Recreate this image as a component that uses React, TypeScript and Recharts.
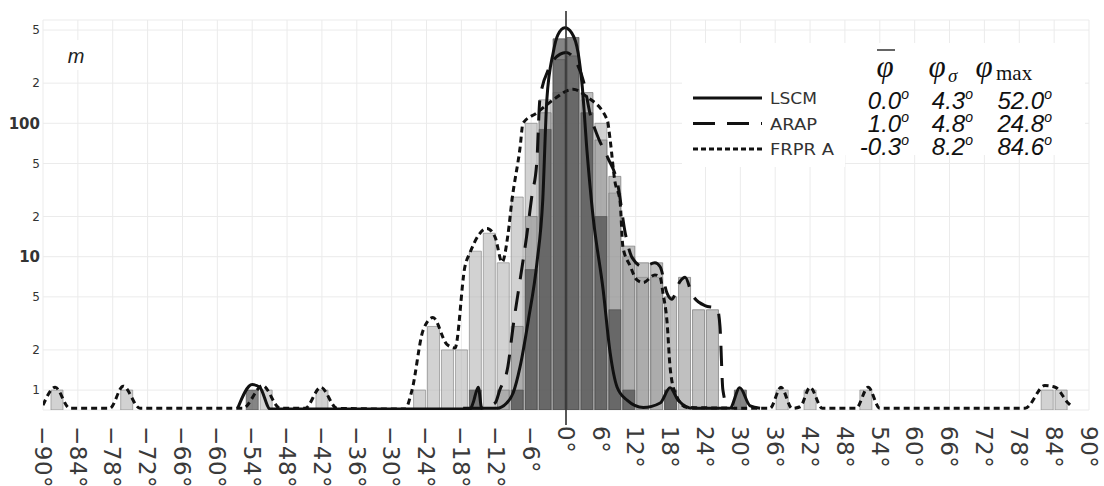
import { ComposedChart, Bar, Line, XAxis, YAxis, CartesianGrid, ReferenceLine } from 'recharts';

// histogram bins (deg, 2.4° wide) and counts per method
const binCenters = [-87.6, -75.6, -54, -51.6, -42, -25.2, -22.8, -20.4, -18, -15.6, -13.2, -10.8, -8.4, -6, -3.6, -1.2, 1.2, 3.6, 6, 8.4, 10.8, 13.2, 15.6, 18, 20.4, 22.8, 25.2, 30, 37.2, 42, 51.6, 82.8, 85.2];
const frprCounts = [1, 1, 0, 1, 1, 1, 3, 2, 2, 11, 15, 9, 28, 100, 150, 170, 180, 150, 100, 30, 10, 7, 7, 1, 0, 0, 0, 0, 1, 1, 1, 1, 1];
const arapCounts = [0, 0, 0, 0, 0, 0, 0, 0, 0, 0, 0, 1, 3, 20, 120, 300, 320, 170, 75, 40, 12, 9, 9, 5, 7, 4, 4, 0, 0, 0, 0, 0, 0];
const lscmCounts = [0, 0, 1, 0, 0, 0, 0, 0, 0, 1, 0, 0, 1, 8, 90, 430, 440, 120, 20, 4, 1, 0, 0, 1, 0, 0, 0, 1, 0, 0, 0, 0, 0];

// fitted curves (deg, m)
const lscmCurveX = [-56.5, -54, -52.7, -50.9, -16.5, -16, -15.1, -14.5, -11.9, -10.2, -9.1, -7.9, -6.5, -5, -4, -3.3, -2.2, -1.4, -0.2, 1, 2.1, 2.8, 3.6, 4.6, 6.4, 7.6, 8.8, 10.5, 13.3, 16.2, 17.9, 19.3, 21.9, 28.2, 29.9, 31.7, 33.4];
const lscmCurveY = [0.73, 1.1, 1.05, 0.72, 0.72, 0.8, 1.05, 0.73, 0.73, 0.8, 0.95, 1.5, 3.3, 9, 26.6, 150, 340, 460, 520, 475, 335, 188, 63, 21, 5.6, 1.9, 1.05, 0.84, 0.74, 0.8, 1.04, 0.84, 0.73, 0.73, 1.04, 0.76, 0.73];
const arapCurveX = [-17.7, -14.8, -12.2, -11.4, -10, -9.1, -7.9, -6.7, -5.9, -5, -4.5, -2.9, -1, 0, 1.7, 3.1, 4.1, 5.5, 7.2, 8.9, 10.2, 11.4, 13.3, 15.3, 16.2, 17.4, 18.2, 19.6, 20.5, 21.7, 23.9, 26, 26.5, 27, 27.9];
const arapCurveY = [0.73, 0.73, 0.8, 1, 1.5, 3, 6.7, 15, 28, 53, 150, 260, 330, 340, 290, 200, 120, 79, 55, 35, 15, 9.8, 8.4, 9, 8.4, 5.3, 4.8, 6.5, 7, 5.2, 4.3, 4.1, 3, 1, 0.73];
const frprCurveX = [-90, -87.9, -85.4, -78.5, -76.2, -73.3, -55.6, -52.2, -49.2, -44.9, -42.2, -39.4, -27.7, -26.5, -24.6, -22.9, -20.5, -19.1, -17.4, -16.5, -13.6, -12.2, -11, -10, -9.3, -7.9, -7.4, -5, -2.2, 1.2, 3.6, 7.1, 7.6, 8.4, 9.3, 9.8, 11, 12.2, 13.3, 15.3, 16.2, 16.7, 17.4, 17.9, 18.8, 20.8, 35.1, 37, 38.9, 40.3, 42, 44.1, 49.9, 52, 54, 79, 82.4, 84.2, 86.4, 87.1];
const frprCurveY = [0.77, 1.05, 0.73, 0.73, 1.07, 0.73, 0.73, 1.08, 0.73, 0.73, 1.05, 0.73, 0.72, 1, 2.8, 3.5, 2.2, 2.07, 8.4, 10.8, 16.3, 14, 9.1, 14.5, 26.5, 66, 100, 120, 150, 180, 158, 106, 75, 37, 26, 11.8, 8.6, 6.7, 6.4, 7.3, 7, 5.3, 3.2, 1.5, 0.95, 0.74, 0.73, 1.05, 0.73, 0.75, 1.05, 0.73, 0.73, 1.05, 0.73, 0.73, 1.08, 1.05, 0.8, 0.75];

const xTicks = [-90, -84, -78, -72, -66, -60, -54, -48, -42, -36, -30, -24, -18, -12, -6, 0, 6, 12, 18, 24, 30, 36, 42, 48, 54, 60, 66, 72, 78, 84, 90];
const yTicks = [1, 2, 5, 10, 20, 50, 100, 200, 500];

const legendRows = [
  { name: 'LSCM', dash: '', mean: '0.0', sd: '4.3', max: '52.0' },
  { name: 'ARAP', dash: '22 12', mean: '1.0', sd: '4.8', max: '24.8' },
  { name: 'FRPR A', dash: '5 3', mean: '-0.3', sd: '8.2', max: '84.6' },
];

const histData = binCenters.map((bin, i) => ({
  bin,
  frpr: frprCounts[i] || null,
  arap: arapCounts[i] || null,
  lscm: lscmCounts[i] || null,
}));
const toCurve = (xs: number[], ys: number[]) => xs.map((x, i) => ({ x, v: ys[i] }));
const lscmCurve = toCurve(lscmCurveX, lscmCurveY);
const arapCurve = toCurve(arapCurveX, arapCurveY);
const frprCurve = toCurve(frprCurveX, frprCurveY);

const TICK_TOP = 426;

const XTick = (props: any) => {
  const { x, payload } = props;
  const v = payload.value;
  const label = (v < 0 ? '\u2212' + Math.abs(v) : String(v)) + '\u00b0';
  return (
    <text x={x} y={TICK_TOP} transform={`rotate(90 ${x} ${TICK_TOP})`} dy="0.36em" fontSize={23} letterSpacing={0.5} fill="#3a3a3a">
      {label}
    </text>
  );
};

const YTick = (props: any) => {
  const { y, payload } = props;
  const v = payload.value;
  const major = v === 10 || v === 100;
  return (
    <text x={40} y={y} dy="0.35em" textAnchor="end" fontSize={major ? 15 : 12} fontWeight={major ? 'bold' : 'normal'} fill="#333">
      {major ? String(v) : String(v)[0]}
    </text>
  );
};

const ZeroLine = (p: any) => (
  <line x1={p.x1} x2={p.x2} y1={Math.min(p.y1, p.y2) - 9} y2={Math.max(p.y1, p.y2) + 15} stroke="#222" strokeWidth={1.5} />
);

const Deg = ({ x, y, value }: { x: number; y: number; value: string }) => (
  <text x={x} y={y} textAnchor="end" fontFamily="Liberation Sans" fontStyle="italic" fontSize={24} fill="#111">
    {value}
    <tspan dy={-10} fontSize={14}>o</tspan>
  </text>
);

export default function App() {
  return (
    <div style={{ position: 'absolute', left: 0, top: 0, width: 1104, height: 486, background: '#fff', overflow: 'hidden', fontFamily: 'DejaVu Sans' }}>
      <ComposedChart width={1104} height={486} data={histData} margin={{ top: 20, right: 15, bottom: 0, left: 0 }} barGap={-12}>
        <CartesianGrid stroke="#ebebeb" strokeWidth={1} />
        <XAxis xAxisId={0} dataKey="bin" type="number" domain={[-90, 90]} ticks={xTicks} interval={0} allowDataOverflow axisLine={false} tickLine={false} height={76} tick={<XTick />} />
        <XAxis xAxisId="c" dataKey="x" type="number" domain={[-90, 90]} allowDataOverflow hide />
        <YAxis scale="log" domain={[0.709, 595]} ticks={yTicks} interval={0} allowDataOverflow width={43} axisLine={false} tickLine={false} tick={<YTick />} />
        <Bar dataKey="frpr" barSize={12} fill="#b4b4b4" fillOpacity={0.6} stroke="#8c8c8c" strokeWidth={0.7} isAnimationActive={false} />
        <Bar dataKey="arap" barSize={12} fill="#8c8c8c" fillOpacity={0.55} stroke="#777" strokeWidth={0.7} isAnimationActive={false} />
        <Bar dataKey="lscm" barSize={12} fill="#444" fillOpacity={0.65} stroke="#555" strokeWidth={0.7} isAnimationActive={false} />
        <Line xAxisId="c" data={frprCurve} dataKey="v" type="monotone" stroke="#111" strokeWidth={3} strokeDasharray="6 4" dot={false} isAnimationActive={false} />
        <Line xAxisId="c" data={arapCurve} dataKey="v" type="monotone" stroke="#111" strokeWidth={3} strokeDasharray="20 12" dot={false} isAnimationActive={false} />
        <Line xAxisId="c" data={lscmCurve} dataKey="v" type="monotone" stroke="#111" strokeWidth={3} dot={false} isAnimationActive={false} />
        <ReferenceLine xAxisId={0} x={0} shape={ZeroLine} />
      </ComposedChart>

      <svg width={1104} height={486} style={{ position: 'absolute', left: 0, top: 0, pointerEvents: 'none' }}>
        <rect x={57} y={40} width={38} height={30} fill="#fff" />
        <text x={76} y={63} textAnchor="middle" fontFamily="Liberation Sans" fontStyle="italic" fontSize={20} fill="#222">m</text>

        <rect x={682} y={43} width={163} height={124} fill="#fff" />
        <rect x={845} y={43} width={240} height={112} fill="#fff" />

        <text x={885} y={77} textAnchor="middle" fontFamily="Liberation Serif" fontStyle="italic" fontSize={31} fill="#111">φ</text>
        <line x1={877} x2={895} y1={50} y2={50} stroke="#111" strokeWidth={1.3} />
        <text x={937} y={77} textAnchor="middle" fontFamily="Liberation Serif" fontStyle="italic" fontSize={31} fill="#111">φ</text>
        <text x={948} y={82} fontFamily="Liberation Serif" fontStyle="italic" fontSize={19} fill="#111">σ</text>
        <text x={984} y={77} textAnchor="middle" fontFamily="Liberation Serif" fontStyle="italic" fontSize={31} fill="#111">φ</text>
        <text x={996} y={80} fontFamily="Liberation Serif" fontSize={21} fill="#111">max</text>

        {legendRows.map((r, i) => {
          const ly = 98 + i * 25.5;
          const by = 109 + i * 23;
          return (
            <g key={r.name}>
              <line x1={693} x2={762} y1={ly} y2={ly} stroke="#111" strokeWidth={3} strokeDasharray={r.dash || undefined} />
              <text x={770} y={ly + 6} fontSize={15} fill="#333" textLength={r.name.length > 4 ? 64 : 47} lengthAdjust="spacingAndGlyphs">{r.name}</text>
              <Deg x={909} y={by} value={r.mean} />
              <Deg x={973} y={by} value={r.sd} />
              <Deg x={1052} y={by} value={r.max} />
            </g>
          );
        })}
      </svg>
    </div>
  );
}
